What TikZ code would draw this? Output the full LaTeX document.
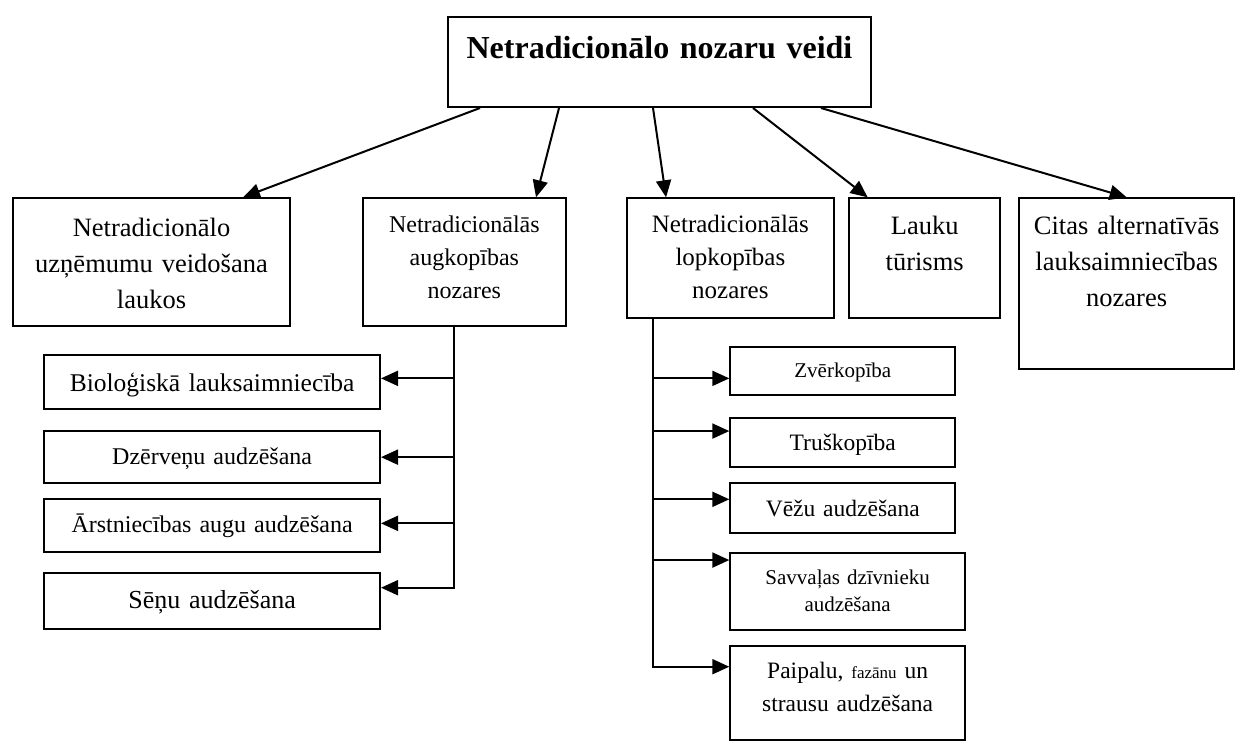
\documentclass[tikz,border=0pt]{standalone}
\usepackage{fontspec}
\setmainfont{Liberation Serif}
\usetikzlibrary{arrows.meta}

\begin{document}
\begin{tikzpicture}[x=1pt,y=-1pt,->,>={Triangle[length=17pt,width=15pt]},line width=2pt,
  box/.style={draw,rectangle,anchor=north west,inner sep=0pt,align=center},
  big/.style={font=\fontsize{26.5pt}{36pt}\selectfont},
  mid/.style={font=\fontsize{24pt}{33pt}\selectfont}]
  \useasboundingbox (0,0) rectangle (1236,740);
  % top and second row
  \node[box,font=\fontsize{32pt}{38pt}\selectfont\bfseries,text width=423pt,text height=41pt,text depth=49pt] (top) at (447,16) {Netradicionālo nozaru veidi};
  \node[box,big,text width=277.6pt,text height=37.7pt,text depth=90pt] (lauk) at (11.7,197.3) {Netradicionālo\\uzņēmumu veidošana\\laukos};
  \node[box,mid,text width=203.3pt,text height=34.4pt,text depth=93.3pt] (aug) at (361.7,197.3) {Netradicionālās\\augkopības\\nozares};
  \node[box,font=\fontsize{25pt}{33pt}\selectfont,text width=206.7pt,text height=34.4pt,text depth=85.6pt] (lop) at (626,197.3) {Netradicionālās\\lopkopības\\nozares};
  \node[box,big,text width=150.7pt,text height=36pt,text depth=84pt] (tur) at (848.3,197.3) {Lauku\\tūrisms};
  \node[box,big,text width=214.7pt,text height=36pt,text depth=135pt] (cit) at (1018.3,197.3) {Citas alternatīvās\\lauksaimniecības\\nozares};
  % augkopiba
  \node[box,font=\fontsize{25.5pt}{30pt}\selectfont,text width=335.7pt,text height=36pt,text depth=17.7pt] (bio) at (43.3,354) {Bioloģiskā lauksaimniecība};
  \node[box,mid,text width=335.7pt,text height=33.3pt,text depth=19pt] (dze) at (43.3,430) {Dzērveņu audzēšana};
  \node[box,mid,text width=335.7pt,text height=33.3pt,text depth=20pt] (ars) at (43.3,497.7) {Ārstniecības augu audzēšana};
  \node[box,font=\fontsize{26pt}{30pt}\selectfont,text width=335.7pt,text height=35pt,text depth=21pt] (sen) at (43.3,572.3) {Sēņu audzēšana};
  % lopkopiba
  \node[box,font=\fontsize{21pt}{27.4pt}\selectfont,text width=225pt,text height=30.7pt,text depth=17.6pt] (zve) at (729.3,346) {Zvērkopība};
  \node[box,font=\fontsize{23.5pt}{30pt}\selectfont,text width=225pt,text height=32.3pt,text depth=17pt] (tru) at (729.3,416.7) {Truškopība};
  \node[box,font=\fontsize{23.5pt}{30pt}\selectfont,text width=225pt,text height=32.7pt,text depth=16.7pt] (vez) at (729.3,482.3) {Vēžu audzēšana};
  \node[box,font=\fontsize{21pt}{27.4pt}\selectfont,text width=234.7pt,text height=31.6pt,text depth=45.7pt] (sav) at (729.3,551.7) {Savvaļas dzīvnieku\\audzēšana};
  \node[box,font=\fontsize{23.5pt}{32.7pt}\selectfont,text width=234.7pt,text height=32.3pt,text depth=61.7pt] (pai) at (729.3,645) {Paipalu, {\fontsize{17pt}{20pt}\selectfont fazānu} un\\strausu audzēšana};

  \draw ([xshift=-179.5pt]top.south) -- ([xshift=91.5pt]lauk.north);
  \draw ([xshift=-100.5pt]top.south) -- ([xshift=71.7pt]aug.north);
  \draw ([xshift=-6.5pt]top.south) -- ([xshift=-64.3pt]lop.north);
  \draw ([xshift=93.5pt]top.south) -- ([xshift=-57pt]tur.north);
  \draw ([xshift=161.5pt]top.south) -- (cit.north);

  \coordinate (augbus) at ([xshift=-10pt]aug.south);
  \coordinate (bioin) at ([yshift=3.5pt]bio.east);
  \coordinate (dzein) at (dze.east);
  \coordinate (arsin) at ([yshift=2pt]ars.east);
  \coordinate (senin) at ([yshift=13.6pt]sen.east);
  \draw (augbus) |- (senin);
  \draw (augbus |- bioin) -- (bioin);
  \draw (augbus |- dzein) -- (dzein);
  \draw (augbus |- arsin) -- (arsin);

  \coordinate (lopbus) at ([xshift=-77pt]lop.south);
  \coordinate (zvein) at ([yshift=-7.2pt]zve.west);
  \coordinate (truin) at ([yshift=11.3pt]tru.west);
  \coordinate (vezin) at ([yshift=8.7pt]vez.west);
  \coordinate (savin) at ([yshift=31.3pt]sav.west);
  \coordinate (paiin) at ([yshift=26.3pt]pai.west);
  \draw (lopbus) |- (paiin);
  \draw (lopbus |- zvein) -- (zvein);
  \draw (lopbus |- truin) -- (truin);
  \draw (lopbus |- vezin) -- (vezin);
  \draw (lopbus |- savin) -- (savin);
\end{tikzpicture}
\end{document}
